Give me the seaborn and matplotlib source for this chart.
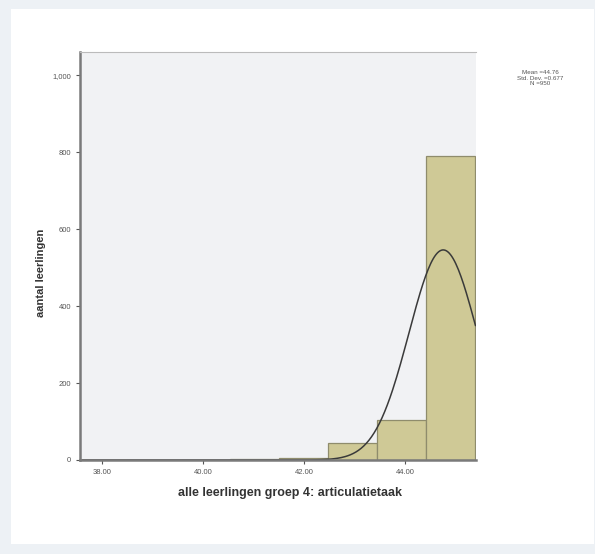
import numpy as np
import pandas as pd
import matplotlib
matplotlib.use("Agg")
import matplotlib.pyplot as plt
import seaborn as sns

# scores and how many pupils got each score
scores = [38, 39, 40, 41, 42, 43, 44, 45]
counts = [1, 1, 1, 3, 6, 44, 104, 790]
mean_val = 44.76
sd_val = 0.677
n_val = 950

df = pd.DataFrame({"score": scores, "aantal": counts})

sns.set_style("white")
plt.rcParams["font.family"] = ["Liberation Sans", "DejaVu Sans"]

fig = plt.figure(figsize=(5.95, 5.54), dpi=100, facecolor="#edf1f5")
# white panel inside the light border
panel = plt.Rectangle((11 / 595, 1 - 544 / 554), 583 / 595, 535 / 554,
                      transform=fig.transFigure, facecolor="white",
                      edgecolor="none", zorder=-10)
fig.add_artist(panel)
ax = fig.add_axes([80 / 595, 1 - 460 / 554, 396 / 595, 408 / 554])
ax.set_facecolor("#f1f2f4")

bin_w = 0.975
sns.histplot(data=df, x="score", weights="aantal", bins=8, binrange=(37.6, 45.4),
             color="#cfc996", edgecolor="#8f8c6c", linewidth=0.9, alpha=1, ax=ax)

# normal curve scaled to counts, as in SPSS
xs = np.linspace(37.6, 45.4, 300)
ys = n_val * bin_w * np.exp(-0.5 * ((xs - mean_val) / sd_val) ** 2) / (sd_val * np.sqrt(2 * np.pi))
sns.lineplot(x=xs, y=ys, color="#3a3a3a", linewidth=1.1, ax=ax)

ax.set_xlim(37.56, 45.41)
ax.set_ylim(0, 1060)
ax.set_xticks([38, 40, 42, 44])
ax.set_xticklabels(["38.00", "40.00", "42.00", "44.00"])
ax.set_yticks([0, 200, 400, 600, 800, 1000])
ax.set_yticklabels(["0", "200", "400", "600", "800", "1,000"])
ax.tick_params(axis="both", labelsize=5.5, colors="#555555", length=3, width=0.8,
               direction="out", bottom=True, left=True)
ax.set_xlabel("alle leerlingen groep 4: articulatietaak", fontsize=9, fontweight="bold",
              color="#333333")
ax.set_ylabel("aantal leerlingen", fontsize=8, fontweight="bold", color="#333333")
ax.xaxis.set_label_coords(0.53, -0.065)
ax.yaxis.set_label_coords(-0.085, 0.46)

for side in ["left", "bottom"]:
    ax.spines[side].set_color("#7a7a7a")
    ax.spines[side].set_linewidth(1.8)
ax.spines["top"].set_color("#bbbbbb")
ax.spines["top"].set_linewidth(0.8)
ax.spines["right"].set_visible(False)

fig.text(540 / 595, 1 - 78 / 554,
         "Mean =44.76\nStd. Dev. =0.677\nN =950",
         ha="center", va="center", fontsize=4.5, color="#555555", linespacing=1.2)

fig.savefig("out.png", dpi=100, facecolor=fig.get_facecolor())
